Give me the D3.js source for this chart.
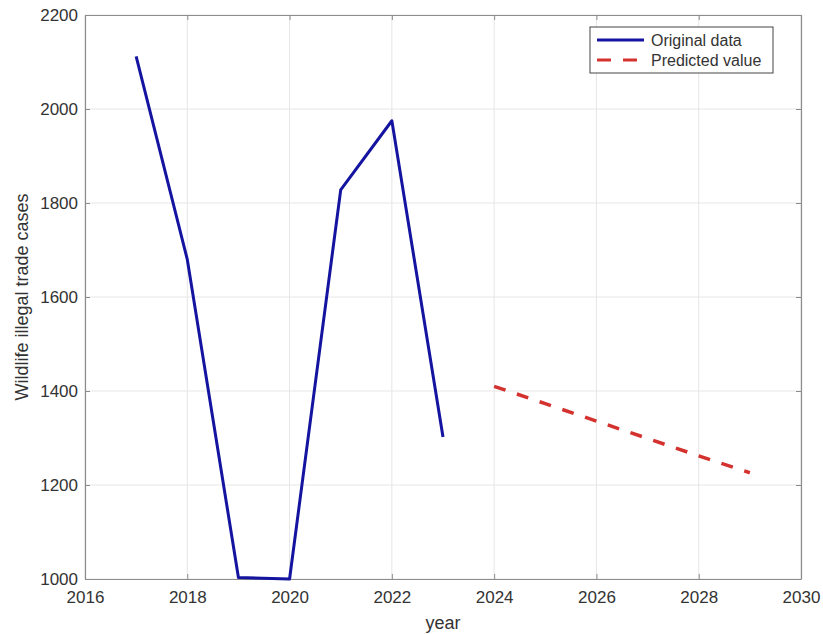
<!DOCTYPE html>
<html>
<head>
<meta charset="utf-8">
<script src="https://cdn.jsdelivr.net/npm/d3@7"></script>
<style>
  body { margin: 0; background: #fff; }
  text { font-family: "Liberation Sans", Arial, sans-serif; fill: #333; }
</style>
</head>
<body>
<div id="chart"></div>
<script>
// datos originales
const years = [2017, 2018, 2019, 2020, 2021, 2022, 2023];
const cases = [2112, 1680, 1003, 1000, 1828, 1975, 1302];
// valores predichos
const predYears = [2024, 2025, 2026, 2027, 2028, 2029];
const predCases = [1410, 1373, 1336, 1299, 1262, 1226];
// ejes
const xTicks = [2016, 2018, 2020, 2022, 2024, 2026, 2028, 2030];
const yTicks = [1000, 1200, 1400, 1600, 1800, 2000, 2200];

const width = 823, height = 634;
const margin = { left: 85, right: 22, top: 15, bottom: 55 };

const svg = d3.select("#chart").append("svg")
    .attr("width", width)
    .attr("height", height);

const x = d3.scaleLinear().domain([2016, 2030]).range([margin.left, width - margin.right]);
const y = d3.scaleLinear().domain([1000, 2200]).range([height - margin.bottom, margin.top]);

// rejilla
svg.append("g").selectAll("line.vg")
    .data(xTicks)
    .enter().append("line")
    .attr("x1", d => x(d)).attr("x2", d => x(d))
    .attr("y1", y(1000)).attr("y2", y(2200))
    .attr("stroke", "#e6e6e6").attr("stroke-width", 1);
svg.append("g").selectAll("line.hg")
    .data(yTicks)
    .enter().append("line")
    .attr("x1", x(2016)).attr("x2", x(2030))
    .attr("y1", d => y(d)).attr("y2", d => y(d))
    .attr("stroke", "#e6e6e6").attr("stroke-width", 1);

// ejes estilo matlab, ticks hacia dentro
const xAxis = svg.append("g")
    .attr("transform", `translate(0,${y(1000)})`)
    .call(d3.axisBottom(x).tickValues(xTicks).tickFormat(d3.format("d")).tickSizeInner(-5).tickSizeOuter(0).tickPadding(12));
const yAxis = svg.append("g")
    .attr("transform", `translate(${x(2016)},0)`)
    .call(d3.axisLeft(y).tickValues(yTicks).tickFormat(d3.format("d")).tickSizeInner(-5).tickSizeOuter(0).tickPadding(7));
const xTop = svg.append("g")
    .attr("transform", `translate(0,${y(2200)})`)
    .call(d3.axisTop(x).tickValues(xTicks).tickFormat("").tickSizeInner(-5).tickSizeOuter(0));
const yRight = svg.append("g")
    .attr("transform", `translate(${x(2030)},0)`)
    .call(d3.axisRight(y).tickValues(yTicks).tickFormat("").tickSizeInner(-5).tickSizeOuter(0));

[xAxis, yAxis, xTop, yRight].forEach(a => {
    a.select(".domain").attr("stroke", "#8c8c8c").attr("stroke-width", 1.2);
    a.selectAll(".tick line").attr("stroke", "#8c8c8c");
    a.selectAll(".tick text")
        .style("font-family", "Liberation Sans, Arial, sans-serif")
        .style("font-size", "17px")
        .attr("fill", "#333");
});
xAxis.selectAll(".tick text").attr("dy", "0.71em");

// lineas
const line = d3.line().x(d => x(d[0])).y(d => y(d[1]));

svg.append("path")
    .datum(years.map((d, i) => [d, cases[i]]))
    .attr("d", line)
    .attr("fill", "none")
    .attr("stroke", "#1414a0")
    .attr("stroke-width", 3)
    .attr("stroke-linejoin", "round");

svg.append("path")
    .datum(predYears.map((d, i) => [d, predCases[i]]))
    .attr("d", line)
    .attr("fill", "none")
    .attr("stroke", "#d3322f")
    .attr("stroke-width", 3.5)
    .attr("stroke-dasharray", "12,12");

// etiquetas de ejes
svg.append("text")
    .attr("x", (x(2016) + x(2030)) / 2)
    .attr("y", 629)
    .attr("text-anchor", "middle")
    .style("font-size", "18px")
    .text("year");

svg.append("text")
    .attr("transform", `translate(28,${(y(1000) + y(2200)) / 2}) rotate(-90)`)
    .attr("text-anchor", "middle")
    .style("font-size", "18px")
    .text("Wildlife illegal trade cases");

// leyenda
const legend = svg.append("g").attr("transform", "translate(590,27)");
legend.append("rect")
    .attr("width", 183).attr("height", 46)
    .attr("fill", "#fff").attr("stroke", "#444").attr("stroke-width", 1);

const legendItems = [
    { label: "Original data", color: "#1414a0", dash: null, len: 47 },
    { label: "Predicted value", color: "#d3322f", dash: "14,12", len: 40 }
];
legendItems.forEach((d, i) => {
    const g = legend.append("g").attr("transform", `translate(0,${13 + i * 20})`);
    g.append("line")
        .attr("x1", 7).attr("x2", 7 + d.len)
        .attr("stroke", d.color)
        .attr("stroke-width", 3)
        .attr("stroke-dasharray", d.dash);
    g.append("text")
        .attr("x", 61).attr("y", 0)
        .attr("dy", "0.35em")
        .style("font-size", "16px")
        .attr("fill", "#222")
        .text(d.label);
});
</script>
</body>
</html>
